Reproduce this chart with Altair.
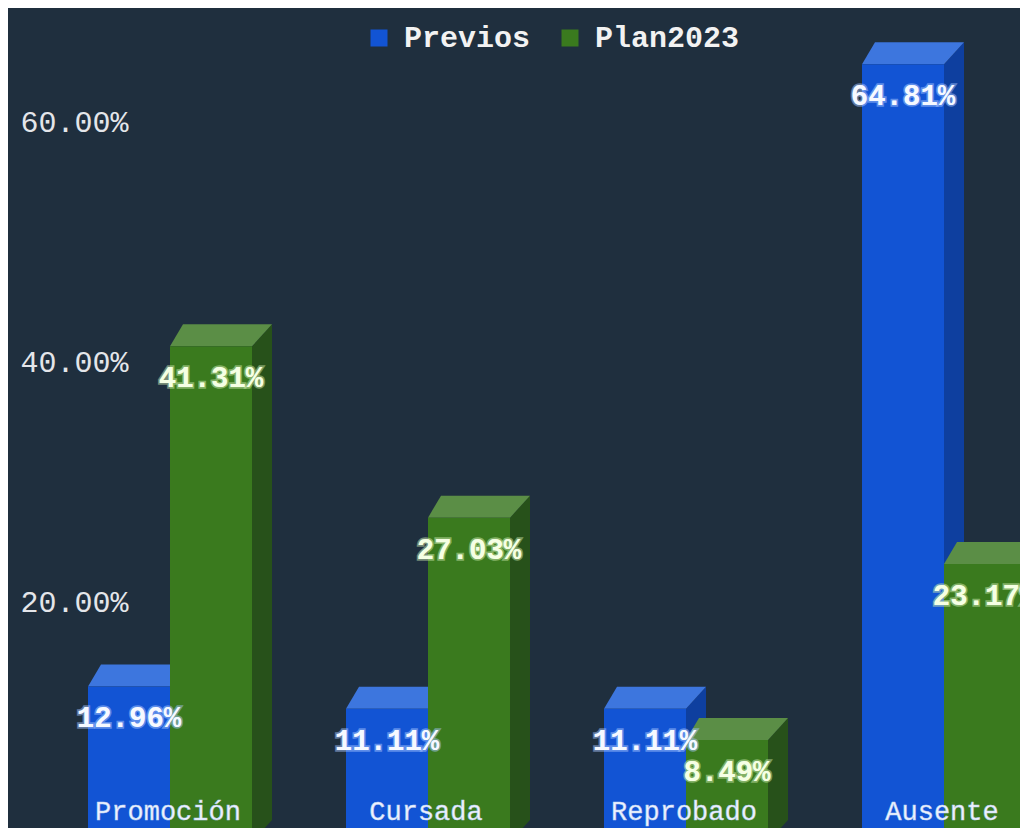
import altair as alt
import pandas as pd

# ---------------- data ----------------
categories = ["Promoción", "Cursada", "Reprobado", "Ausente"]
series_names = ["Previos", "Plan2023"]
previos = [12.96, 11.11, 11.11, 64.81]
plan2023 = [41.31, 27.03, 8.49, 23.17]
y_ticks = [20, 40, 60]

# ---------------- style ----------------
BG = "#1f2f3e"
front_colors = ["#1254d4", "#3a7a1e"]
top_colors = ["#3d76de", "#5b8e46"]
side_colors = ["#0e3f9f", "#27511a"]
halo_colors = ["#a9c6ff", "#cfe9b0"]
text_colors = ["#f6f9ff", "#f5ffe4"]
FONT = "Liberation Mono"

PLOT_W, PLOT_H = 1012, 820
BAND = 258.0            # pixels per category
PX_PER_PCT = 12.0       # pixels per percentage point
W = 82 / BAND           # bar width (category units)
DXL = 13 / BAND         # depth offset, left edge
DXR = 20 / BAND         # depth offset, right edge
DY = 22 / PX_PER_PCT    # depth offset, vertical (pct units)
Y_BOTTOM = 14 / PX_PER_PCT

x_scale = alt.Scale(domain=[-162 / BAND, (PLOT_W - 162) / BAND], nice=False, zero=False)
y_scale = alt.Scale(domain=[Y_BOTTOM, Y_BOTTOM + PLOT_H / PX_PER_PCT], nice=False, zero=False)

# ---------------- geometry from data ----------------
fronts, faces, labels = [], [], []
for s, vals in enumerate([previos, plan2023]):
    for i, v in enumerate(vals):
        x0 = i - W if s == 0 else i
        x1 = x0 + W
        fronts.append(dict(series=series_names[s], s=s, x0=x0, x1=x1, y0=0, y1=v))
        gid = f"side{s}_{i}"
        faces += [
            dict(gid=gid, s=s, kind="side", fill=side_colors[s], x=x1, y=v, y2=0),
            dict(gid=gid, s=s, kind="side", fill=side_colors[s], x=x1 + DXR, y=v + DY, y2=DY),
        ]
        gid = f"top{s}_{i}"
        faces += [
            dict(gid=gid, s=s, kind="top", fill=top_colors[s], x=x0, y=v, y2=v),
            dict(gid=gid, s=s, kind="top", fill=top_colors[s], x=x0 + DXL, y=v + DY, y2=v),
            dict(gid=gid, s=s, kind="top", fill=top_colors[s], x=x1, y=v + DY, y2=v),
            dict(gid=gid, s=s, kind="top", fill=top_colors[s], x=x1 + DXR, y=v + DY, y2=v + DY),
        ]
        labels.append(dict(s=s, x=(x0 + x1) / 2, y=v, text=f"{v:.2f}%"))

fronts_df = pd.DataFrame(fronts)
faces_df = pd.DataFrame(faces)
labels_df = pd.DataFrame(labels)
cats_df = pd.DataFrame(dict(cat=categories, x=list(range(len(categories))), y=[0] * len(categories)))


def Y(field):
    return alt.Y(
        field,
        scale=y_scale,
        stack=None,
        title=None,
        axis=alt.Axis(
            values=y_ticks,
            labelExpr="format(datum.value, '.2f') + '%'",
            domain=False,
            ticks=False,
            tickSize=0,
            grid=False,
            labelPadding=0,
            offset=-120,
            labelFont=FONT,
            labelFontSize=30,
            labelColor="#e4e6ea",
            labelAlign="right",
        ),
    )


color_enc = alt.Color(
    "series:N",
    scale=alt.Scale(domain=series_names, range=front_colors),
    legend=alt.Legend(
        title=None,
        orient="none",
        legendX=356,
        legendY=15,
        direction="horizontal",
        symbolType="square",
        symbolSize=289,
        symbolStrokeWidth=0,
        symbolOpacity=1,
        labelFont=FONT,
        labelFontSize=30,
        labelFontWeight="bold",
        labelColor="#f2f2f2",
        labelOffset=10,
        columnPadding=24,
        padding=0,
    ),
)

layers = []
for s in range(2):
    side = (
        alt.Chart(faces_df)
        .transform_filter(f"datum.s == {s} && datum.kind == 'side'")
        .mark_area(clip=True, interpolate="linear")
        .encode(
            x=alt.X("x:Q", scale=x_scale, axis=None),
            y=Y("y:Q"),
            y2="y2:Q",
            detail="gid:N",
            fill=alt.Fill("fill:N", scale=None),
        )
    )
    top = (
        alt.Chart(faces_df)
        .transform_filter(f"datum.s == {s} && datum.kind == 'top'")
        .mark_area(clip=True, interpolate="linear")
        .encode(
            x=alt.X("x:Q", scale=x_scale, axis=None),
            y=Y("y:Q"),
            y2="y2:Q",
            detail="gid:N",
            fill=alt.Fill("fill:N", scale=None),
        )
    )
    front = (
        alt.Chart(fronts_df)
        .transform_filter(f"datum.s == {s}")
        .mark_rect(clip=True)
        .encode(
            x=alt.X("x0:Q", scale=x_scale, axis=None),
            x2="x1:Q",
            y=Y("y0:Q"),
            y2="y1:Q",
            color=color_enc,
        )
    )
    layers += [side, top, front]

for s in range(2):
    base = alt.Chart(labels_df).transform_filter(f"datum.s == {s}")
    halo = base.mark_text(
        font=FONT, fontSize=29, fontWeight="bold", baseline="middle", align="center",
        dy=32, stroke=halo_colors[s], strokeWidth=3.5, strokeOpacity=0.5, fill=halo_colors[s],
    ).encode(x=alt.X("x:Q", scale=x_scale, axis=None), y=Y("y:Q"), text="text:N")
    txt = base.mark_text(
        font=FONT, fontSize=29, fontWeight="bold", baseline="middle", align="center",
        dy=32, fill=text_colors[s],
    ).encode(x=alt.X("x:Q", scale=x_scale, axis=None), y=Y("y:Q"), text="text:N")
    layers += [halo, txt]

cat_text = alt.Chart(cats_df).mark_text(
    font=FONT, fontSize=27, baseline="middle", align="center", dy=-30, dx=-2,
    fill="#eef3ff", stroke="#bcd0f0", strokeWidth=0.5,
).encode(x=alt.X("x:Q", scale=x_scale, axis=None), y=Y("y:Q"), text="cat:N")
layers.append(cat_text)

chart = (
    alt.layer(*layers)
    .properties(
        width=PLOT_W,
        height=PLOT_H,
        background=BG,
        padding=0,
        autosize=alt.AutoSizeParams(type="none"),
    )
    .configure_view(stroke=None)
)

chart.save("out.html", embed_options={"renderer": "svg", "actions": False})
